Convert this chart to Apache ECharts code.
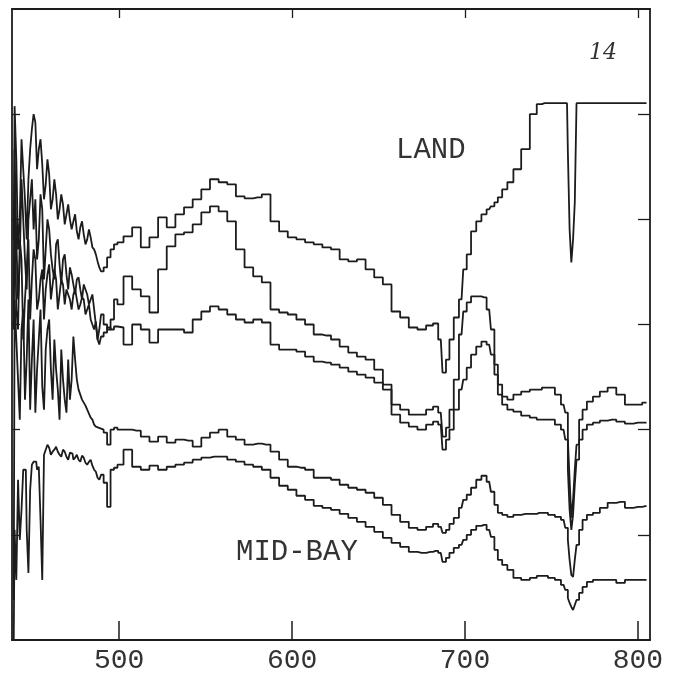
<!DOCTYPE html>
<html>
<head>
<meta charset="utf-8">
<script src="https://cdn.jsdelivr.net/npm/echarts@6/dist/echarts.min.js"></script>
<style>
  html, body { margin: 0; padding: 0; background: #fff; }
  #chart { width: 680px; height: 675px; }
</style>
</head>
<body>
<div id="chart"></div>
<script>
// Wavelength (nm) sampling shared by all traces
const wavelengths = [
  439,
  440, 441, 442, 443, 444, 445, 446, 447, 448, 449,
  450, 451, 452, 453, 454, 455, 456, 457, 458, 459,
  460, 461, 462, 463, 464, 465, 466, 467, 468, 469,
  470, 471, 472, 473, 474, 475, 476, 477, 478, 479,
  480, 481, 482, 483, 484, 485, 486, 487, 488, 489,
  490, 492, 494, 496, 498, 500,
  505, 510, 515, 520, 525, 530, 535, 540, 545, 550, 555, 560, 565, 570, 575, 580,
  585, 590, 595, 600, 605, 610, 615, 620, 625, 630, 635, 640, 645, 650, 655, 660,
  665, 670, 675, 680,
  683, 686, 688, 690, 692, 695, 698, 700, 702, 705, 708, 711, 714, 716, 718, 720,
  723, 726, 730, 735, 740, 743, 746, 750, 754, 757, 759, 760, 761, 762, 763, 764,
  765, 767, 769, 772, 776, 780, 785, 790, 795, 800, 805
];

// Relative signal of each trace (arbitrary units, axis 0-630)
const landTrace = [
  400,
  533, 480, 390, 420, 500, 470, 440, 400, 460, 490,
  510, 525, 517, 470, 490, 500, 475, 440, 455, 480,
  465, 430, 440, 460, 445, 420, 430, 445, 435, 415,
  425, 435, 420, 410, 418, 425, 408, 400, 412, 418,
  405, 395, 400, 410, 402, 392, 390, 385, 378, 372,
  368, 372, 382, 390, 395, 397,
  403, 412, 392, 402, 422, 412, 425, 432, 440, 450, 460, 457, 455, 443, 441, 442,
  445, 418, 408, 402, 400, 397, 395, 392, 390, 380, 378, 380, 370, 362, 355, 328,
  322, 312, 310, 314,
  316, 300, 267, 280, 300, 322, 340, 370, 385, 408, 418, 425, 430, 433, 437, 442,
  450, 457, 470, 490, 525, 535, 536, 536, 536, 536, 536, 487, 410, 377, 400, 437,
  536, 536, 536, 536, 536, 536, 536, 536, 536, 536, 536
];

const traceB = [
  340,
  490, 400, 340, 380, 460, 420, 380, 350, 420, 440,
  460, 410, 440, 380, 400, 445, 430, 360, 390, 420,
  410, 385, 370, 360, 395, 400, 375, 355, 380, 385,
  365, 350, 372, 365, 355, 345, 360, 362, 350, 340,
  355, 350, 345, 335, 340, 345, 330, 315, 300, 310,
  325, 315, 310, 320, 340, 335,
  363, 350, 343, 327, 370, 393, 405, 407, 415, 427, 433, 428, 418, 390, 372, 363,
  357, 330, 327, 325, 320, 315, 305, 304, 300, 293, 287, 283, 280, 270, 255, 235,
  230, 225, 225, 230,
  233, 227, 203, 212, 230, 260, 305, 328, 337, 343, 343, 342, 330, 310, 275, 255,
  243, 240, 245, 248, 250, 250, 252, 252, 245, 235, 227, 200, 160, 122, 140, 170,
  195, 220, 230, 238, 243, 248, 252, 245, 235, 235, 237
];

const traceC = [
  310,
  440, 330, 310, 400, 380, 300, 340, 370, 400, 320,
  360, 390, 380, 330, 340, 360, 370, 320, 350, 365,
  375, 340, 355, 370, 360, 330, 345, 360, 355, 335,
  350, 345, 340, 330, 345, 350, 340, 330, 335, 342,
  340, 325, 330, 335, 320, 315, 310, 318, 300, 295,
  303, 307, 312, 310, 313, 312,
  295, 315, 310, 297, 310, 310, 310, 307, 320, 328, 333, 330, 325, 320, 317, 320,
  317, 295, 290, 290, 288, 283, 278, 277, 275, 272, 268, 265, 262, 257, 250, 225,
  217, 213, 210, 215,
  218, 215, 190, 200, 210, 230, 250, 260, 272, 285, 293, 298, 295, 285, 265, 245,
  235, 230, 228, 224, 222, 220, 220, 220, 215, 210, 200, 170, 130, 110, 125, 155,
  180, 200, 210, 215, 217, 219, 220, 218, 216, 217, 217
];

const midBayUpper = [
  40,
  340, 300, 260, 220, 310, 330, 240, 280, 340, 230,
  280, 320, 227, 270, 300, 330, 253, 230, 290, 310,
  320, 270, 240, 300, 270, 250, 220, 290, 260, 240,
  227, 280, 240, 260, 303, 280, 260, 250, 245, 240,
  237, 234, 230, 226, 222, 220, 215, 213, 212, 211,
  210, 207, 195, 210, 212, 210,
  210, 209, 203, 198, 203, 197, 200, 199, 193, 202, 207, 210, 203, 200, 195, 196,
  195, 188, 180, 173, 172, 170, 162, 162, 160, 155, 152, 150, 147, 142, 135, 125,
  118, 112, 110, 113,
  116, 113, 107, 110, 116, 122, 132, 140, 145, 152, 160, 164, 158, 148, 135, 127,
  125, 123, 125, 126, 126, 127, 127, 125, 123, 120, 112, 100, 80, 65, 63, 80,
  95, 110, 120, 125, 127, 132, 137, 138, 132, 133, 134
];

const midBayLower = [
  0,
  110, 60, 160, 100, 130, 170, 170, 110, 67, 150,
  175, 178, 178, 170, 173, 120, 60, 185, 190, 195,
  192, 185, 188, 190, 193, 188, 185, 183, 190, 188,
  183, 180, 187, 186, 180, 182, 185, 180, 178, 184,
  182, 177, 175, 178, 180, 174, 170, 168, 162, 160,
  165, 157, 133, 170, 172, 175,
  190, 173, 170, 174, 170, 173, 175, 177, 180, 182, 183, 183, 180, 178, 175, 173,
  170, 162, 154, 150, 144, 140, 134, 132, 130, 126, 122, 118, 113, 108, 102, 97,
  93, 88, 87, 88,
  89, 87, 78, 82, 87, 92, 95, 100, 105, 110, 114, 115, 110, 103, 90, 80,
  75, 70, 62, 60, 62, 64, 64, 62, 60, 55, 50, 42, 37, 33, 30, 35,
  40, 47, 53, 58, 60, 60, 60, 57, 60, 60, 60
];

const tickWavelengths = [500, 600, 700, 800];
const yTickValues = [105, 210, 315, 420, 525];

const traces = [landTrace, traceB, traceC, midBayUpper, midBayLower];
const ink = '#1c1c1c';

const chart = echarts.init(document.getElementById('chart'), null, { renderer: 'canvas' });

// Plotter traces are drawn as stepped lines
const series = traces.map(function (vals) {
  return {
    type: 'line',
    step: 'middle',
    data: wavelengths.map(function (w, i) { return [w, vals[i]]; }),
    showSymbol: false,
    symbol: 'none',
    silent: true,
    lineStyle: { color: ink, width: 1.8 },
    animation: false
  };
});

const plotterFont = '"Liberation Mono", "DejaVu Sans Mono", monospace';

chart.setOption({
  backgroundColor: '#ffffff',
  animation: false,
  grid: { left: 12, right: 30, top: 9, bottom: 35, outerBoundsMode: 'none', containLabel: false },
  xAxis: [
    {
      type: 'value', position: 'bottom', min: 438, max: 807,
      axisLine: { show: true, onZero: false, lineStyle: { color: ink, width: 1.8 } },
      axisTick: { show: true, inside: true, length: 19, customValues: tickWavelengths, lineStyle: { color: ink, width: 1.5 } },
      axisLabel: {
        show: true, customValues: tickWavelengths, margin: 7,
        fontFamily: plotterFont, fontSize: 28, color: '#333'
      },
      splitLine: { show: false }
    },
    {
      type: 'value', position: 'top', min: 438, max: 807,
      axisLine: { show: true, onZero: false, lineStyle: { color: ink, width: 1.8 } },
      axisTick: { show: true, inside: true, length: 9, customValues: tickWavelengths, lineStyle: { color: ink, width: 1.3 } },
      axisLabel: { show: false },
      splitLine: { show: false }
    }
  ],
  yAxis: [
    {
      type: 'value', position: 'left', min: 0, max: 630,
      axisLine: { show: true, onZero: false, lineStyle: { color: ink, width: 1.8 } },
      axisTick: { show: true, inside: true, length: 8, customValues: yTickValues, lineStyle: { color: ink, width: 1.3 } },
      axisLabel: { show: false },
      splitLine: { show: false }
    },
    {
      type: 'value', position: 'right', min: 0, max: 630,
      axisLine: { show: true, onZero: false, lineStyle: { color: ink, width: 1.8 } },
      axisTick: { show: true, inside: true, length: 12, customValues: yTickValues, lineStyle: { color: ink, width: 1.3 } },
      axisLabel: { show: false },
      splitLine: { show: false }
    }
  ],
  series: series,
  graphic: [
    {
      type: 'text', left: 396, top: 136,
      style: { text: 'LAND', font: '29px ' + plotterFont, fill: '#333' }
    },
    {
      type: 'text', left: 236, top: 538,
      style: { text: 'MID-BAY', font: '29px ' + plotterFont, fill: '#333' }
    },
    {
      type: 'text', left: 589, top: 42,
      style: { text: '14', font: 'italic 22px "DejaVu Serif", serif', fill: '#333' }
    }
  ]
});
</script>
</body>
</html>
